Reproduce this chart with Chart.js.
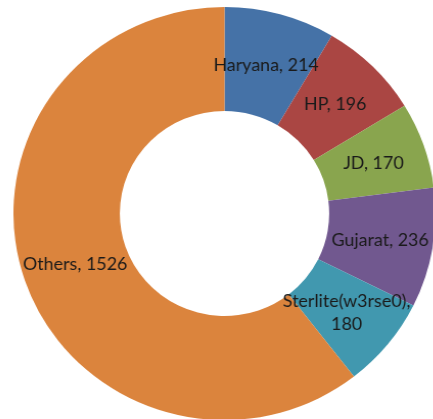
<!DOCTYPE html>
<html>
<head>
<meta charset="utf-8">
<script src="https://cdn.jsdelivr.net/npm/chart.js@4/dist/chart.umd.min.js"></script>
<style>
  html, body { margin: 0; padding: 0; background: #fff; overflow: hidden; }
  /* el donut original és lleugerament més ample que alt */
  #wrap { position: absolute; left: 18px; top: 7px; width: 413px; height: 413px;
          transform: scaleX(1.022); transform-origin: 50% 50%; }
</style>
</head>
<body>
<div id="wrap"><canvas id="grafic" width="413" height="413"></canvas></div>
<script>
// dades del gràfic
const categories = ['Haryana', 'HP', 'JD', 'Gujarat', 'Sterlite(w3rse0)', 'Others'];
const valors = [214, 196, 170, 236, 180, 1526];
const colors = ['#4572A7', '#AA4643', '#89A54E', '#71588F', '#4198AF', '#DB843D'];

// etiquetes dins de cada tros: "nom, valor" (Sterlite va en dues línies)
const etiquetesPlugin = {
    id: 'etiquetes',
    afterDatasetsDraw(chart) {
        const ctx = chart.ctx;
        const meta = chart.getDatasetMeta(0);
        ctx.save();
        ctx.font = '17.5px Lato';
        ctx.fillStyle = '#1a1a1a';
        ctx.textAlign = 'center';
        ctx.textBaseline = 'middle';
        meta.data.forEach((arc, i) => {
            const pos = arc.tooltipPosition();
            let linies = [categories[i] + ', ' + valors[i]];
            if (categories[i].length > 10) linies = [categories[i] + ',', String(valors[i])];
            const alt = 23;
            const y0 = pos.y + 1 - (linies.length - 1) * alt / 2;
            linies.forEach((t, k) => ctx.fillText(t, pos.x, y0 + k * alt));
        });
        ctx.restore();
    }
};

new Chart(document.getElementById('grafic'), {
    type: 'doughnut',
    data: {
        labels: categories,
        datasets: [{
            data: valors,
            backgroundColor: colors,
            borderWidth: 0,
            hoverOffset: 0
        }]
    },
    options: {
        responsive: false,
        animation: false,
        cutout: '49.6%',
        layout: { padding: 0 },
        plugins: {
            legend: { display: false },
            tooltip: { enabled: false }
        }
    },
    plugins: [etiquetesPlugin]
});
</script>
</body>
</html>
